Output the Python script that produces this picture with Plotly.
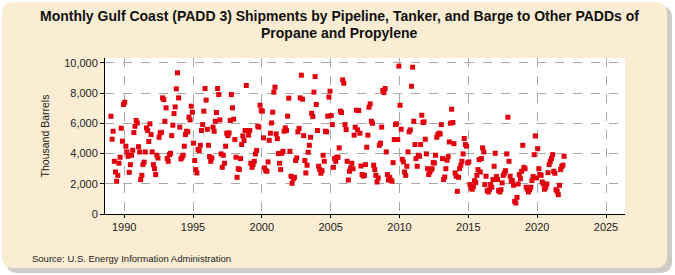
import pandas as pd
import plotly.graph_objects as go

# monthly shipments, thousand barrels (Jan..Dec per year)
v1989 = [6475, 4950, 5480, 3490, 2785, 2165, 2560, 3360, 3757, 5680, 4820, 7250]
v1990 = [7400, 4490, 4110, 3820, 2760, 3270, 3890, 4220, 5390, 5810, 6190, 6030]
v1991 = [4460, 4110, 2280, 2560, 3270, 3430, 4110, 5700, 5530, 4800, 5970, 5260]
v1992 = [4110, 3270, 3000, 2610, 3890, 3710, 5080, 5370, 5410, 7690, 7580, 6140]
v1993 = [7030, 3670, 3490, 3930, 4020, 5190, 5880, 6650, 7090, 8290, 9350, 7690]
v1994 = [5750, 3650, 3760, 3890, 4490, 5260, 5480, 5440, 6410, 6230, 7140, 6740]
v1995 = [4690, 3540, 2940, 2720, 4270, 4200, 4550, 5530, 5920, 6810, 8310, 7540]
v1996 = [5610, 4550, 3800, 3490, 3710, 5750, 5480, 6140, 6720, 8310, 7910, 6230]
v1997 = [3980, 3090, 3890, 3360, 4490, 5350, 5190, 5370, 6190, 7910, 7030, 6280]
v1998 = [4930, 3760, 2430, 3000, 2940, 3670, 4600, 5170, 4860, 5530, 8510, 5530]
v1999 = [5220, 5530, 3360, 3090, 3270, 3490, 3980, 4200, 5810, 5750, 7200, 6850]
v2000 = [6810, 5040, 3050, 2870, 2830, 3450, 4880, 5350, 6030, 6740, 8070, 8400]
v2001 = [5300, 4990, 4000, 3360, 2940, 4020, 4150, 5480, 5700, 5530, 6480, 7670]
v2002 = [4150, 2500, 2030, 2340, 2430, 3540, 3710, 5440, 5660, 7690, 9190, 7600]
v2003 = [5190, 3540, 2720, 3230, 4090, 4550, 5080, 6670, 6450, 8070, 9100, 7250]
v2004 = [5530, 3160, 2960, 2700, 2870, 3890, 3490, 5480, 5440, 6480, 7740, 8130]
v2005 = [6520, 5920, 3090, 3670, 3490, 3760, 3760, 4380, 6810, 6720, 8880, 8660]
v2006 = [5920, 5590, 3490, 2250, 2830, 3050, 3360, 3000, 5220, 5750, 6870, 5570]
v2007 = [6850, 5350, 3180, 2610, 2510, 2560, 3270, 4420, 5220, 7070, 7290, 6140]
v2008 = [6010, 3230, 2940, 2560, 2120, 2390, 4550, 4690, 5750, 8180, 8040, 8310]
v2009 = [4110, 2610, 2250, 2430, 2250, 2170, 3400, 4930, 5920, 5970, 4930, 9790]
v2010 = [7200, 5610, 3620, 3450, 2780, 2560, 3160, 4110, 5440, 5570, 8460, 9720]
v2011 = [6140, 4600, 3670, 3160, 3890, 3820, 4600, 6540, 6060, 6100, 4950, 3980]
v2012 = [3000, 2610, 2780, 2920, 3000, 3400, 3380, 3890, 5080, 5260, 5350, 5300]
v2013 = [5920, 3670, 2280, 2450, 3000, 3560, 3800, 4770, 6010, 6940, 6060, 4660]
v2014 = [2720, 2500, 1500, 2430, 3000, 3230, 3490, 3980, 5000, 4600, 4490, 3380]
v2015 = [3450, 1950, 1720, 1640, 1810, 2210, 2080, 2560, 2940, 3600, 2780, 3670]
v2016 = [4380, 4110, 1950, 2500, 1550, 1460, 1610, 1950, 1770, 2280, 3160, 4020]
v2017 = [2480, 2280, 1550, 1460, 1610, 2060, 2560, 2720, 2870, 3980, 6410, 3490]
v2018 = [2500, 2170, 2210, 1900, 840, 730, 1100, 1990, 2610, 2340, 2830, 4550]
v2019 = [3090, 3000, 1770, 1640, 1460, 1610, 1770, 2210, 2480, 3930, 5170, 2390]
v2020 = [4330, 3000, 2610, 2560, 2120, 1990, 1640, 1770, 1990, 2740, 3270, 3490]
v2021 = [3670, 3930, 2830, 2700, 1610, 1500, 1280, 1900, 2940, 3140, 3230, 3820]

values = (v1989 + v1990 + v1991 + v1992 + v1993 + v1994 + v1995 + v1996 + v1997
          + v1998 + v1999 + v2000 + v2001 + v2002 + v2003 + v2004 + v2005 + v2006
          + v2007 + v2008 + v2009 + v2010 + v2011 + v2012 + v2013 + v2014 + v2015
          + v2016 + v2017 + v2018 + v2019 + v2020 + v2021)
dates = pd.date_range("1989-01-01", periods=len(values), freq="MS") + pd.Timedelta(days=14)

title_1 = "Monthly Gulf Coast (PADD 3) Shipments by Pipeline, Tanker, and Barge to Other PADDs of"
title_2 = "Propane and Propylene"

W, H = 675, 275
L, R, T, B = 105, 50, 58, 61
pw, ph = W - L - R, H - T - B


def px(x):
    return (x - L) / pw


def py(y):
    return (H - B - y) / ph


def rounded_box(x0, y0, x1, y1, r):
    # rounded rectangle path in paper coords, built from pixel corners
    pts = [
        f"M {px(x0 + r)},{py(y0)}",
        f"L {px(x1 - r)},{py(y0)}",
        f"Q {px(x1)},{py(y0)} {px(x1)},{py(y0 + r)}",
        f"L {px(x1)},{py(y1 - r)}",
        f"Q {px(x1)},{py(y1)} {px(x1 - r)},{py(y1)}",
        f"L {px(x0 + r)},{py(y1)}",
        f"Q {px(x0)},{py(y1)} {px(x0)},{py(y1 - r)}",
        f"L {px(x0)},{py(y0 + r)}",
        f"Q {px(x0)},{py(y0)} {px(x0 + r)},{py(y0)}",
        "Z",
    ]
    return " ".join(pts)


fig = go.Figure()
fig.add_trace(go.Scatter(
    x=dates, y=values, mode="markers",
    marker=dict(symbol="square", size=5, color="#E3000D", line=dict(width=0)),
    hovertemplate="%{x|%b %Y}: %{y:,}<extra></extra>",
))

font = "Liberation Sans, Arial, sans-serif"
title_font = dict(family=font, size=14, color="#111")

fig.update_layout(
    width=W, height=H,
    margin=dict(l=L, r=R, t=T, b=B),
    paper_bgcolor="white",
    plot_bgcolor="white",
    showlegend=False,
    font=dict(family=font, size=11, color="#222"),
    shapes=[
        dict(type="path", xref="paper", yref="paper", layer="below",
             path=rounded_box(6, 6, 672, 273, 12),
             fillcolor="#CFCBC6", line=dict(width=0)),
        dict(type="path", xref="paper", yref="paper", layer="below",
             path=rounded_box(2, 2, 667, 268, 12),
             fillcolor="#FBEDD3", line=dict(width=0)),
        dict(type="rect", xref="paper", yref="paper", layer="below",
             x0=0, x1=1, y0=0, y1=1, fillcolor="white", line=dict(width=0)),
    ],
    annotations=[
        dict(text=f"<b>{title_1}</b>", xref="paper", yref="paper",
             x=px(339), y=py(16), xanchor="center", yanchor="middle",
             showarrow=False, font=title_font),
        dict(text=f"<b>{title_2}</b>", xref="paper", yref="paper",
             x=px(339), y=py(33), xanchor="center", yanchor="middle",
             showarrow=False, font=title_font),
        dict(text="Source: U.S. Energy Information Administration",
             xref="paper", yref="paper", x=px(30), y=py(258),
             xanchor="left", yanchor="middle", showarrow=False,
             font=dict(family=font, size=9.5, color="#222")),
    ],
)

fig.update_xaxes(
    type="date", automargin=False,
    range=["1988-08-10", "2026-05-20"],
    tick0="1990-01-01", dtick="M60", tickformat="%Y",
    showgrid=True, gridcolor="#A8A8A8", griddash="dash", gridwidth=1,
    showline=True, linecolor="black", linewidth=1,
    ticks="outside", ticklen=3, tickcolor="black",
    zeroline=False,
)
fig.update_yaxes(
    automargin=False,
    range=[0, 10330], dtick=2000, tickformat=",",
    title=dict(text="Thousand Barrels", font=dict(family=font, size=10.5), standoff=12),
    showgrid=True, gridcolor="#A8A8A8", griddash="dash", gridwidth=1,
    showline=True, linecolor="black", linewidth=1,
    ticks="outside", ticklen=4, tickcolor="black",
    zeroline=False,
)

# drop the browser's default body margin so the figure sits at the page corner
fig.write_html("out.html", config={"displayModeBar": False},
               post_script="document.body.style.margin = '0';")
